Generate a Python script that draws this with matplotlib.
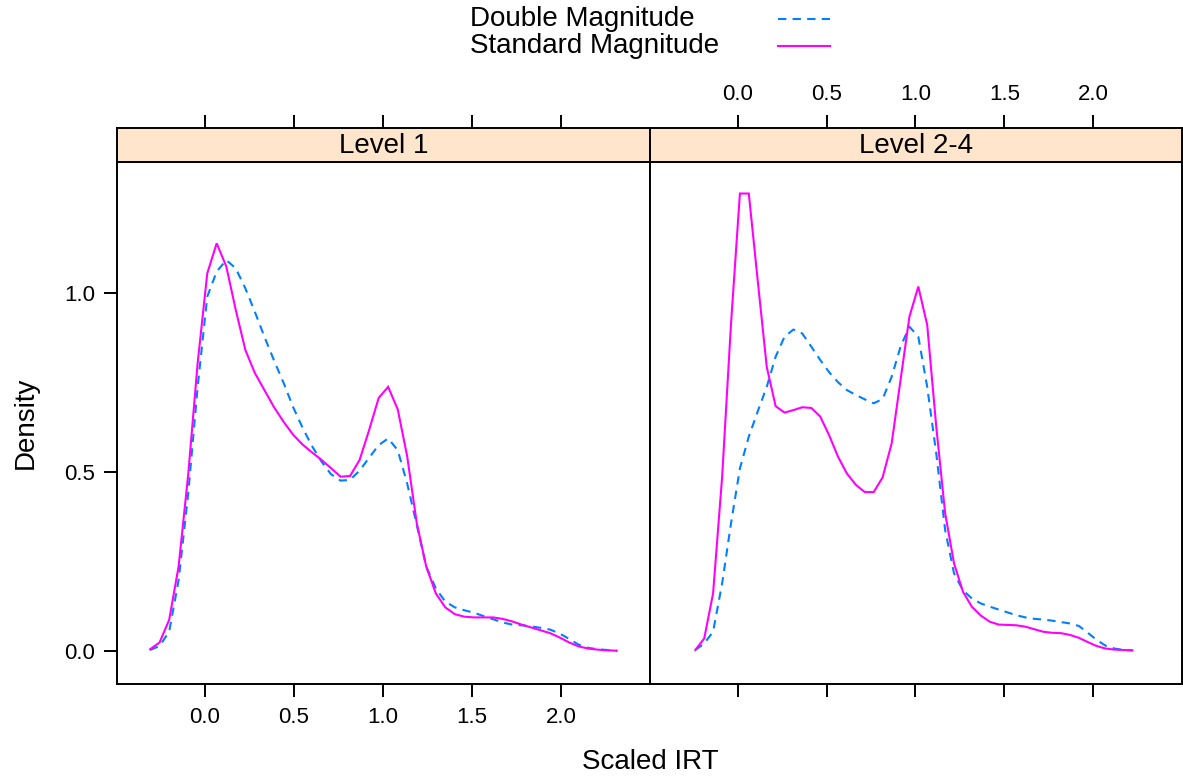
import matplotlib
matplotlib.use("Agg")
import matplotlib.pyplot as plt
from matplotlib.lines import Line2D

plt.rcParams['font.family'] = ['Liberation Sans', 'DejaVu Sans']

# ---------------- data ----------------
panels = ["Level 1", "Level 2-4"]
series = ["Double Magnitude", "Standard Magnitude"]
colors = {"Double Magnitude": "#0080ff", "Standard Magnitude": "#ff00ff"}
styles = {"Double Magnitude": (0, (4, 3)), "Standard Magnitude": "-"}

x_level1 = [-0.308, -0.255, -0.201, -0.148, -0.094, -0.041, 0.013, 0.066, 0.120, 0.173,
            0.227, 0.280, 0.334, 0.387, 0.441, 0.494, 0.548, 0.601, 0.655, 0.708,
            0.762, 0.815, 0.869, 0.922, 0.976, 1.029, 1.083, 1.136, 1.190, 1.243,
            1.297, 1.350, 1.404, 1.457, 1.511, 1.564, 1.618, 1.671, 1.725, 1.778,
            1.832, 1.885, 1.939, 1.992, 2.046, 2.099, 2.153, 2.206, 2.260, 2.313]
double_level1 = [0.003, 0.014, 0.054, 0.198, 0.440, 0.738, 0.990, 1.060, 1.092, 1.069,
                 1.013, 0.948, 0.878, 0.813, 0.750, 0.683, 0.624, 0.573, 0.529, 0.494,
                 0.476, 0.478, 0.504, 0.540, 0.575, 0.594, 0.561, 0.468, 0.352, 0.236,
                 0.175, 0.138, 0.122, 0.114, 0.107, 0.098, 0.089, 0.080, 0.074, 0.072,
                 0.069, 0.065, 0.060, 0.049, 0.034, 0.018, 0.009, 0.005, 0.003, 0.001]
standard_level1 = [0.005, 0.024, 0.087, 0.236, 0.493, 0.804, 1.055, 1.139, 1.074, 0.953,
                   0.841, 0.777, 0.729, 0.682, 0.641, 0.605, 0.577, 0.555, 0.534, 0.511,
                   0.487, 0.489, 0.534, 0.617, 0.707, 0.738, 0.675, 0.544, 0.357, 0.236,
                   0.161, 0.122, 0.103, 0.096, 0.094, 0.094, 0.094, 0.090, 0.083, 0.074,
                   0.066, 0.058, 0.050, 0.038, 0.024, 0.013, 0.007, 0.004, 0.002, 0.001]

x_level24 = [-0.239, -0.189, -0.139, -0.088, -0.038, 0.012, 0.062, 0.112, 0.163, 0.213,
             0.263, 0.313, 0.363, 0.414, 0.464, 0.514, 0.564, 0.614, 0.665, 0.715,
             0.765, 0.815, 0.866, 0.916, 0.966, 1.016, 1.066, 1.117, 1.167, 1.217,
             1.267, 1.317, 1.368, 1.418, 1.468, 1.518, 1.568, 1.619, 1.669, 1.719,
             1.769, 1.819, 1.870, 1.920, 1.970, 2.020, 2.070, 2.121, 2.171, 2.221]
double_level24 = [0.003, 0.021, 0.054, 0.189, 0.357, 0.510, 0.599, 0.669, 0.738, 0.822,
                  0.878, 0.898, 0.887, 0.850, 0.813, 0.779, 0.751, 0.729, 0.715, 0.703,
                  0.692, 0.704, 0.766, 0.850, 0.906, 0.878, 0.738, 0.552, 0.338, 0.217,
                  0.170, 0.147, 0.133, 0.124, 0.116, 0.108, 0.100, 0.094, 0.090, 0.088,
                  0.085, 0.081, 0.077, 0.070, 0.051, 0.031, 0.015, 0.007, 0.003, 0.002]
standard_level24 = [0.003, 0.035, 0.161, 0.487, 0.915, 1.278, 1.278, 1.036, 0.794, 0.684,
                    0.666, 0.673, 0.681, 0.679, 0.655, 0.603, 0.543, 0.496, 0.464, 0.444,
                    0.444, 0.485, 0.580, 0.757, 0.934, 1.018, 0.911, 0.627, 0.385, 0.245,
                    0.166, 0.124, 0.099, 0.082, 0.074, 0.073, 0.072, 0.068, 0.061, 0.054,
                    0.051, 0.050, 0.045, 0.037, 0.025, 0.014, 0.007, 0.004, 0.003, 0.002]

x_ticks = [0.0, 0.5, 1.0, 1.5, 2.0]
x_ticklabels = ["0.0", "0.5", "1.0", "1.5", "2.0"]
y_ticks = [0.0, 0.5, 1.0]
y_ticklabels = ["0.0", "0.5", "1.0"]

data = {
    "Level 1": (x_level1, {"Double Magnitude": double_level1, "Standard Magnitude": standard_level1}),
    "Level 2-4": (x_level24, {"Double Magnitude": double_level24, "Standard Magnitude": standard_level24}),
}

# ---------------- layout ----------------
W, H = 1183, 780
fig = plt.figure(figsize=(W / 100, H / 100), dpi=100)


def rect(l, t, r, b):
    return [l / W, 1 - b / H, (r - l) / W, (b - t) / H]


XLIM = (-0.494, 2.5)
YLIM = (-0.092, 1.366)
TICK_FS = 16
LAB_FS = 20
LW_FRAME = 1.4

panel_px = [(117, 162, 650, 684), (650, 162, 1182, 684)]
strip_px = [(117, 128, 650, 162), (650, 128, 1182, 162)]

for k, name in enumerate(panels):
    ax = fig.add_axes(rect(*panel_px[k]))
    xs, ys = data[name]
    for s in series:
        ax.plot(xs, ys[s], color=colors[s], linestyle=styles[s], lw=1.5,
                solid_joinstyle='miter', dash_capstyle='butt')
    ax.set_xlim(*XLIM)
    ax.set_ylim(*YLIM)
    for sp in ax.spines.values():
        sp.set_linewidth(LW_FRAME)
        sp.set_color('black')
    ax.set_xticks(x_ticks)
    ax.set_yticks(y_ticks)
    ax.tick_params(direction='out', length=9.5, width=LW_FRAME, colors='black',
                   labelsize=TICK_FS, pad=7)
    if k == 0:
        ax.set_xticklabels(x_ticklabels)
        ax.set_yticklabels(y_ticklabels)
        ax.tick_params(axis='y', left=True, right=False, labelleft=True, pad=6)
    else:
        ax.set_xticklabels([])
        ax.tick_params(axis='y', left=False, right=True, labelleft=False, labelright=False)
        ax.tick_params(axis='x', labelbottom=False)

    # strip
    sx = fig.add_axes(rect(*strip_px[k]))
    sx.set_facecolor('#ffe5cc')
    sx.set_xlim(*XLIM)
    sx.set_ylim(0, 1)
    sx.set_yticks([])
    sx.xaxis.set_ticks_position('top')
    sx.set_xticks(x_ticks)
    sx.tick_params(axis='x', direction='out', length=9.5, width=LW_FRAME,
                   colors='black', labelsize=TICK_FS, pad=7)
    if k == 1:
        sx.set_xticklabels(x_ticklabels)
    else:
        sx.set_xticklabels([])
    for sp in sx.spines.values():
        sp.set_linewidth(LW_FRAME)
        sp.set_color('black')
    sx.text(0.5, 0.46, name, transform=sx.transAxes, ha='center', va='center',
            fontsize=LAB_FS, color='black')

# axis labels
fig.text(650 / W, 1 - 762 / H, "Scaled IRT", ha='center', va='center', fontsize=LAB_FS)
fig.text(26 / W, 1 - 423 / H, "Density", ha='center', va='center', rotation=90,
         fontsize=LAB_FS)

# legend (lattice key on top)
key_rows = [19, 46]
for s, yrow in zip(series, key_rows):
    fig.text(470 / W, 1 - yrow / H, s, ha='left', va='center', fontsize=LAB_FS)
    fig.add_artist(Line2D([778 / W, 830 / W], [1 - yrow / H, 1 - yrow / H],
                          transform=fig.transFigure, color=colors[s],
                          linestyle=styles[s], lw=1.5, dash_capstyle='butt'))

fig.savefig("out.png", dpi=100, facecolor='white')
